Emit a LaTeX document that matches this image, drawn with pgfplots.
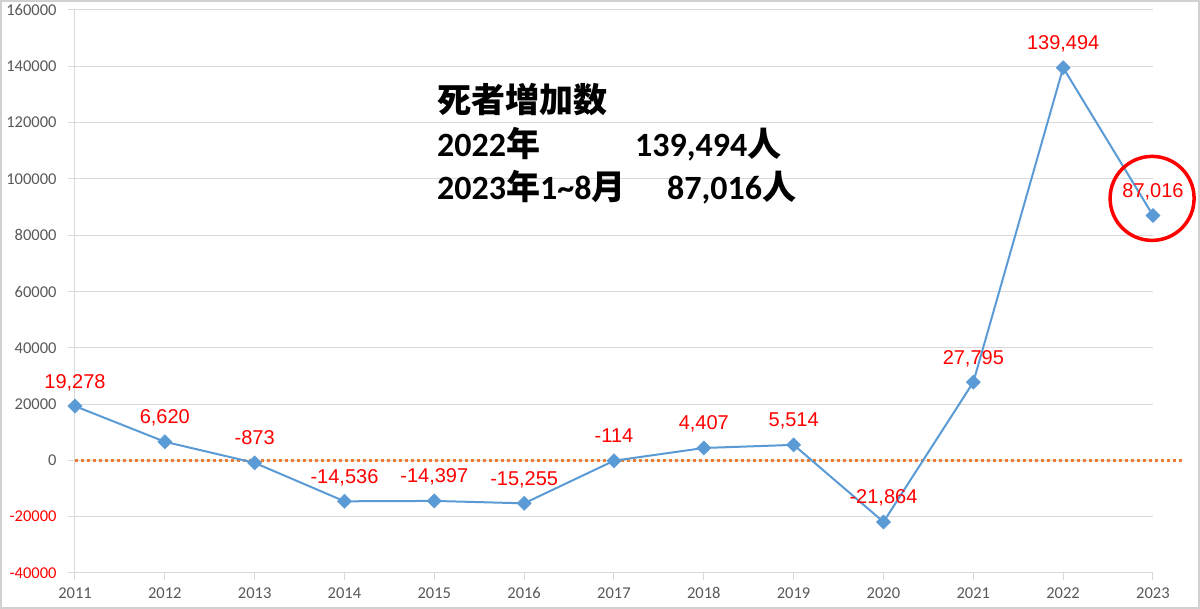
\documentclass[border=0pt]{standalone}
\usepackage{pgfplots}
\usepackage{pgfplotstable}
\pgfplotsset{compat=1.18}
\usepackage{fontspec}
\setmainfont{Liberation Sans}
\newfontfamily\carlito{Carlito}
\newfontfamily\jp{Noto Sans CJK JP}
\definecolor{tickgray}{HTML}{595959}
\definecolor{gridgray}{HTML}{D9D9D9}
\definecolor{lineblue}{HTML}{5B9BD5}
\definecolor{zorange}{HTML}{ED7D31}
\definecolor{lblred}{HTML}{FF0000}

\pgfplotstableread{
year val lbl
2011 19278 19,278
2012 6620 6,620
2013 -873 -873
2014 -14536 -14,536
2015 -14397 -14,397
2016 -15255 -15,255
2017 -114 -114
2018 4407 4,407
2019 5514 5,514
2020 -21864 -21,864
2021 27795 27,795
2022 139494 139,494
2023 87016 87,016
}\deaths

\begin{document}
\begin{tikzpicture}[x=1pt,y=1pt]
\fill[white] (0,0) rectangle (1200,609);
\draw[color=black!18, line width=2pt] (1,1) rectangle (1199,608);
\begin{axis}[
  at={(75pt,36pt)}, anchor=south west,
  scale only axis, width=1078pt, height=563pt,
  xmin=2011, xmax=2023, ymin=-40000, ymax=160000,
  clip=false,
  scaled y ticks=false, scaled x ticks=false,
  axis x line*=bottom, axis y line*=left,
  axis line style={gridgray, line width=1pt, -},
  xtick={2011,2012,...,2023},
  xticklabels={2011,2012,2013,2014,2015,2016,2017,2018,2019,2020,2021,2022,2023},
  ytick={-40000,-20000,0,20000,40000,60000,80000,100000,120000,140000,160000},
  yticklabels={\textcolor{lblred}{-40000},\textcolor{lblred}{-20000},0,20000,40000,60000,80000,100000,120000,140000,160000},
  tick label style={font=\fontsize{16.5}{18}\carlito, text=tickgray},
  tick style={gridgray, line width=1pt},
  tick align=outside,
  major tick length=7pt,
  yticklabel style={anchor=east, xshift=-8pt},
  xticklabel style={anchor=north, yshift=-4pt},
  ymajorgrids,
  grid style={gridgray, line width=1pt},
]
\addplot[zorange, line width=3.2pt, dash pattern=on 3.2pt off 2.8pt] coordinates {(2011,0) (2023.35,0)};
\addplot[lineblue, line width=2pt, mark=square*, mark size=5pt,
  mark options={fill=lineblue, draw=lineblue, line width=0.5pt, rotate=45},
  point meta=explicit symbolic,
  nodes near coords,
  every node near coord/.append style={font=\fontsize{20}{22}\selectfont, text=lblred, anchor=base, yshift=18pt, inner sep=0pt, rotate=0}]
  table[x=year, y=val, meta=lbl] {\deaths};
\draw[color=lblred, line width=3.5pt] (axis cs:2022.99,93073) circle[radius=42pt];
\end{axis}
\begin{scope}[every node/.style={anchor=base west, inner sep=0pt, font=\fontsize{34}{40}\selectfont\bfseries}]
\node at (437,496) {\jp 死者増加数};
\node at (437,452) {\carlito 2022\jp 年};
\node at (635,452) {\carlito 139,494\jp 人};
\node at (437,409) {\carlito 2023\jp 年\carlito 1\textasciitilde 8\jp 月};
\node at (667,409) {\carlito 87,016\jp 人};
\end{scope}
\end{tikzpicture}
\end{document}
